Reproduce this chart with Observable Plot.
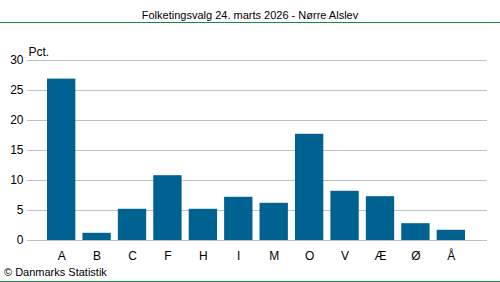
<!DOCTYPE html>
<html>
<head>
<meta charset="utf-8">
<script src="https://cdn.jsdelivr.net/npm/d3@7"></script>
<script src="https://cdn.jsdelivr.net/npm/@observablehq/plot@0.6"></script>
<style>
  html, body { margin: 0; padding: 0; background: #fff; }
  body { width: 500px; height: 282px; overflow: hidden; font-family: "Liberation Sans", Arial, sans-serif; }
  #title { height: 22px; line-height: 30px; font-size: 11px; text-align: center; color: #000; border-bottom: 1px solid #1a8a4a; }
  #caption { height: 18px; line-height: 19px; font-size: 11px; color: #000; padding-left: 4px; border-bottom: 1px solid #1a8a4a; }
  svg { display: block; }
</style>
</head>
<body>
<div id="title"></div>
<div id="chart"></div>
<div id="caption"></div>
<script>
const titleText = "Folketingsvalg 24. marts 2026 - Nørre Alslev";
const captionText = "© Danmarks Statistik";
const parties = ["A", "B", "C", "F", "H", "I", "M", "O", "V", "Æ", "Ø", "Å"];
const values = [26.9, 1.2, 5.2, 10.8, 5.2, 7.2, 6.2, 17.7, 8.2, 7.3, 2.8, 1.7];
const yTicks = [0, 5, 10, 15, 20, 25, 30];

document.getElementById("title").textContent = titleText;
document.getElementById("caption").textContent = captionText;

const data = parties.map((p, i) => ({party: p, value: values[i]}));

const chart = Plot.plot({
  width: 500,
  height: 240,
  marginTop: 37,
  marginBottom: 23,
  marginLeft: 27,
  marginRight: 13,
  style: {fontFamily: "Liberation Sans, Arial, sans-serif", fontSize: "12px", color: "#000", background: "#fff"},
  x: {domain: parties, paddingInner: 0.2, paddingOuter: 0, round: false, insetLeft: 20, insetRight: 22, label: null},
  y: {domain: [0, 30], ticks: yTicks, label: null},
  marks: [
    Plot.ruleY(yTicks, {stroke: "#c0c0c8", strokeWidth: 1}),
    Plot.barY(data, {x: "party", y: "value", fill: "#006291"}),
    Plot.axisY({ticks: yTicks, tickSize: 0, tickPadding: 4, label: null}),
    Plot.axisX({tickSize: 0, tickPadding: 11, label: null}),
    Plot.text(["Pct."], {frameAnchor: "top-left", dy: -13, dx: 1, textAnchor: "start", fontSize: 12})
  ]
});
document.getElementById("chart").appendChild(chart);
</script>
</body>
</html>
